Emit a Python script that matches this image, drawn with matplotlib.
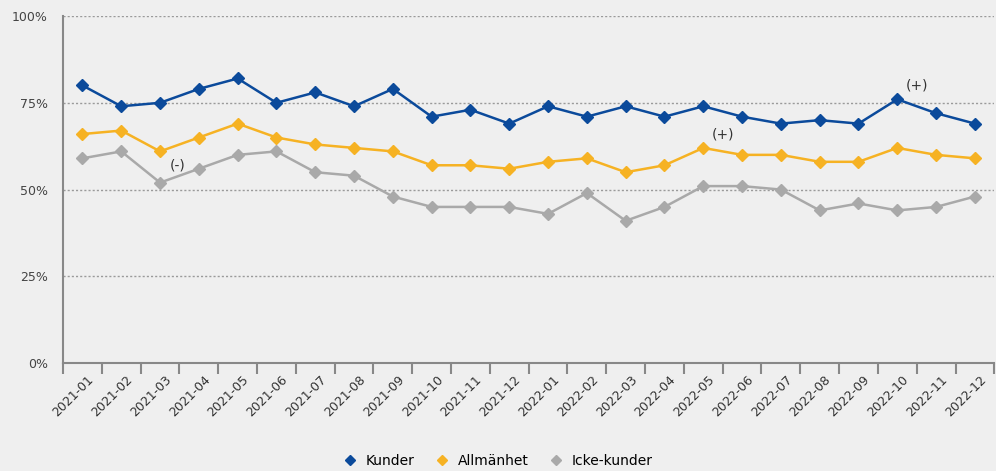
import matplotlib.pyplot as plt
from matplotlib.ticker import FixedLocator

months = ['2021-01', '2021-02', '2021-03', '2021-04', '2021-05', '2021-06',
          '2021-07', '2021-08', '2021-09', '2021-10', '2021-11', '2021-12',
          '2022-01', '2022-02', '2022-03', '2022-04', '2022-05', '2022-06',
          '2022-07', '2022-08', '2022-09', '2022-10', '2022-11', '2022-12']
kunder = [80, 74, 75, 79, 82, 75, 78, 74, 79, 71, 73, 69,
          74, 71, 74, 71, 74, 71, 69, 70, 69, 76, 72, 69]
allmanhet = [66, 67, 61, 65, 69, 65, 63, 62, 61, 57, 57, 56,
             58, 59, 55, 57, 62, 60, 60, 58, 58, 62, 60, 59]
icke_kunder = [59, 61, 52, 56, 60, 61, 55, 54, 48, 45, 45, 45,
               43, 49, 41, 45, 51, 51, 50, 44, 46, 44, 45, 48]
# (index, value, text) for the small significance marks
notes = [(2.45, 57, '(-)'), (16.5, 66, '(+)'), (21.5, 80, '(+)')]

bg = '#efefef'
fig = plt.figure(figsize=(9.96, 4.71), dpi=100, facecolor=bg)
ax = fig.add_axes([0.0633, 0.229, 0.935, 0.737], facecolor=bg)

x = list(range(len(months)))
ax.plot(x, kunder, color='#0b4a9b', marker='D', markersize=6.5, lw=1.8, label='Kunder')
ax.plot(x, allmanhet, color='#f6b223', marker='D', markersize=6.5, lw=1.8, label='Allmänhet')
ax.plot(x, icke_kunder, color='#a9a9a9', marker='D', markersize=6.5, lw=1.8, label='Icke-kunder')

for xi, yi, t in notes:
    ax.text(xi, yi, t, fontsize=10, color='#333333', ha='center', va='center')

ax.set_xlim(-0.5, len(months) - 0.5)
ax.set_ylim(0, 100)
ax.set_yticks([0, 25, 50, 75, 100])
ax.set_yticklabels(['0%', '25%', '50%', '75%', '100%'], fontsize=9, color='#444444')
ax.tick_params(axis='y', length=0, pad=11)
ax.grid(axis='y', color='#9a9a9a', linestyle=(0, (1.5, 1.5)), lw=1)
ax.set_axisbelow(True)

ax.set_xticks([i + 0.12 for i in x])
ax.set_xticklabels(months, rotation=45, ha='right', rotation_mode='anchor',
                   fontsize=9, color='#333333')
ax.tick_params(axis='x', length=0, pad=7)
ax.xaxis.set_minor_locator(FixedLocator([i - 0.5 for i in range(len(months) + 1)]))
ax.tick_params(axis='x', which='minor', length=8, width=1.5, color='#888888')

for s in ['top', 'right']:
    ax.spines[s].set_visible(False)
for s in ['left', 'bottom']:
    ax.spines[s].set_color('#888888')
    ax.spines[s].set_linewidth(1.5)

fig.legend(loc='lower center', bbox_to_anchor=(0.5, -0.02), ncol=3, frameon=False,
           fontsize=10, handlelength=1, handletextpad=0.6, columnspacing=1.5,
           markerscale=0.85)
for h in fig.legends[0].get_lines():
    h.set_linestyle('none')

fig.savefig('out.png', dpi=100, facecolor=bg)
